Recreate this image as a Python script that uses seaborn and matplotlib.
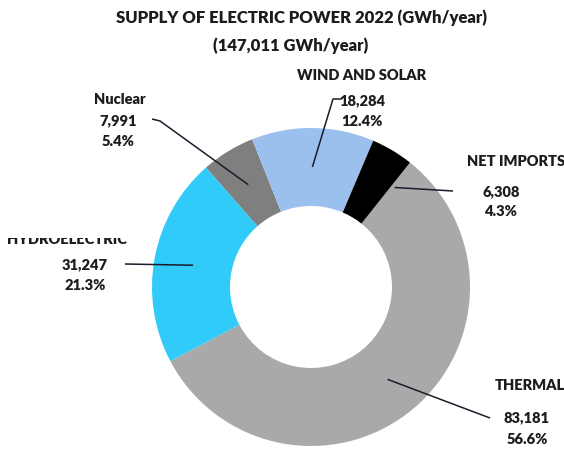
import numpy as np
import matplotlib
matplotlib.use("Agg")
import matplotlib.pyplot as plt
import seaborn as sns
from matplotlib.transforms import Bbox, TransformedBbox

# ---- data ----
categories = ["THERMAL", "HYDROELECTRIC", "Nuclear", "WIND AND SOLAR", "NET IMPORTS"]
values = [83181, 31247, 7991, 18284, 6308]
colors = ["#A9A9A9", "#31CBFA", "#7F7F7F", "#9CC0EE", "#000000"]
title_line1 = "SUPPLY OF ELECTRIC POWER 2022 (GWh/year)"
title_line2 = "(147,011 GWh/year)"

sns.set_theme(style="white")
plt.rcParams['font.family'] = ['Lato', 'DejaVu Sans']

W, H = 564, 451
fig = plt.figure(figsize=(W / 100, H / 100), dpi=100)
ax = fig.add_axes([0, 0, 1, 1])
ax.set_xlim(0, W)
ax.set_ylim(0, H)
ax.axis("off")

def Y(y):
    return H - y

cx, cy = 311, Y(287)
R_out, R_in = 159, 81

wedges, _ = ax.pie(values, colors=colors, startangle=51.5, counterclock=False,
                   center=(cx, cy), radius=R_out,
                   wedgeprops=dict(width=R_out - R_in, edgecolor="none", linewidth=0))
ax.set_xlim(0, W)
ax.set_ylim(0, H)
ax.set_aspect("auto")

txt_color = "#1c1c1c"
line_color = "#1b1b2b"
fs = 10.5
fw = "heavy"

total = sum(values)
layout = {
    "THERMAL": ((530, 386), (527, 418), (527, 439)),
    "HYDROELECTRIC": ((67, 240), (85, 265), (85, 285)),
    "Nuclear": ((120, 100), (118, 121), (118, 142)),
    "WIND AND SOLAR": ((362, 76), (362, 101), (362, 121)),
    "NET IMPORTS": ((516, 162), (501, 192), (500, 212)),
}
leader_start = {
    "THERMAL": [(490, 418)],
    "HYDROELECTRIC": [(125, 264)],
    "Nuclear": [(152, 119), (160, 121)],
    "WIND AND SOLAR": [(342, 99), (333, 99)],
    "NET IMPORTS": [(453, 191)],
}
anchor_adj = {"NET IMPORTS": (-0.1, 130)}  # fraction along wedge, radius

for w, cat, v in zip(wedges, categories, values):
    (nx, ny), (vx, vy), (px, py) = layout[cat]
    t = ax.text(nx, Y(ny), cat, ha="center", va="center", fontsize=fs,
                fontweight=fw, color=txt_color)
    if cat == "HYDROELECTRIC":
        clip = TransformedBbox(Bbox([[0, 0], [W, Y(237.5)]]), ax.transData)
        t.set_clip_box(clip)
        t.set_clip_on(True)
    ax.text(vx, Y(vy), f"{v:,}", ha="center", va="center", fontsize=fs,
            fontweight=fw, color=txt_color)
    ax.text(px, Y(py), f"{v / total * 100:.1f}%", ha="center", va="center",
            fontsize=fs, fontweight=fw, color=txt_color)
    frac, r = anchor_adj.get(cat, (0.5, 120))
    ang = np.deg2rad(w.theta1 + frac * (w.theta2 - w.theta1))
    axp, ayp = cx + r * np.cos(ang), cy + r * np.sin(ang)
    pts = [(x, Y(y)) for x, y in leader_start[cat]] + [(axp, ayp)]
    xs, ys = zip(*pts)
    ax.plot(xs, ys, color=line_color, lw=1.1, solid_capstyle="butt")

ax.text(301, Y(18), title_line1, ha="center", va="center", fontsize=12,
        fontweight=fw, color=txt_color)
ax.text(291, Y(46), title_line2, ha="center", va="center", fontsize=12,
        fontweight=fw, color=txt_color)

fig.savefig("out.png", dpi=100, facecolor="white")
